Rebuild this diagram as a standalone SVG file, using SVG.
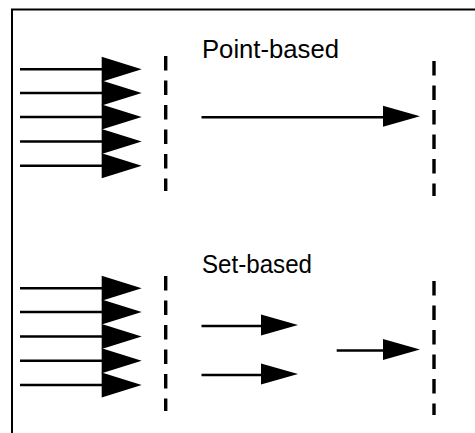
<svg xmlns="http://www.w3.org/2000/svg" width="475" height="433" viewBox="0 0 475 433">
  <style>
    .frame { fill: none; stroke: #000; stroke-width: 2; }
    .shaft { stroke: #000; stroke-width: 2.6; fill: none; }
    .head { fill: #000; stroke: none; }
    .barrier { stroke: #000; stroke-width: 3.4; stroke-dasharray: 14.5 10; fill: none; }
    .label { font-family: "Liberation Sans", Arial, sans-serif; font-size: 25px; fill: #000; }
  </style>
  <defs>
    <polygon id="bigHead" class="head" points="0,-12.5 40,0 0,12.5"/>
    <polygon id="smallHead" class="head" points="0,-10.5 37,0 0,10.5"/>
  </defs>

  <rect class="frame" x="12" y="9.5" width="480" height="440"/>

  <!-- Point-based panel -->
  <g id="point-based">
    <text class="label" x="202" y="57.5" textLength="137" lengthAdjust="spacingAndGlyphs">Point-based</text>
    <g id="point-inputs">
      <line class="shaft" x1="20" y1="69.3" x2="104" y2="69.3"/>
      <line class="shaft" x1="20" y1="93" x2="104" y2="93"/>
      <line class="shaft" x1="20" y1="117" x2="104" y2="117"/>
      <line class="shaft" x1="20" y1="141.5" x2="104" y2="141.5"/>
      <line class="shaft" x1="20" y1="165.7" x2="104" y2="165.7"/>
      <use href="#bigHead" x="101.7" y="69.3"/>
      <use href="#bigHead" x="101.7" y="93"/>
      <use href="#bigHead" x="101.7" y="117"/>
      <use href="#bigHead" x="101.7" y="141.5"/>
      <use href="#bigHead" x="101.7" y="165.7"/>
    </g>
    <line id="point-start" class="barrier" x1="165.7" y1="56" x2="165.7" y2="191"/>
    <g id="point-step">
      <line class="shaft" x1="201.5" y1="117.3" x2="385" y2="117.3"/>
      <use href="#smallHead" x="383" y="116.3"/>
    </g>
    <line id="point-end" class="barrier" x1="434" y1="61" x2="434" y2="196"/>
  </g>

  <!-- Set-based panel -->
  <g id="set-based">
    <text class="label" x="202" y="272.7" textLength="110" lengthAdjust="spacingAndGlyphs">Set-based</text>
    <g id="set-inputs">
      <line class="shaft" x1="20" y1="288.3" x2="104" y2="288.3"/>
      <line class="shaft" x1="20" y1="312" x2="104" y2="312"/>
      <line class="shaft" x1="20" y1="336.5" x2="104" y2="336.5"/>
      <line class="shaft" x1="20" y1="360.7" x2="104" y2="360.7"/>
      <line class="shaft" x1="20" y1="385" x2="104" y2="385"/>
      <use href="#bigHead" x="101.7" y="288.3"/>
      <use href="#bigHead" x="101.7" y="312"/>
      <use href="#bigHead" x="101.7" y="336.5"/>
      <use href="#bigHead" x="101.7" y="360.7"/>
      <use href="#bigHead" x="101.7" y="385"/>
    </g>
    <line id="set-start" class="barrier" x1="165.7" y1="276" x2="165.7" y2="411"/>
    <g id="set-steps">
      <line class="shaft" x1="201.5" y1="326" x2="263" y2="326"/>
      <use href="#smallHead" x="261" y="325"/>
      <line class="shaft" x1="201.5" y1="375" x2="263" y2="375"/>
      <use href="#smallHead" x="261" y="374"/>
      <line class="shaft" x1="336.7" y1="350.5" x2="385" y2="350.5"/>
      <use href="#smallHead" x="383" y="349.5"/>
    </g>
    <line id="set-end" class="barrier" x1="434" y1="281" x2="434" y2="415"/>
  </g>
</svg>
